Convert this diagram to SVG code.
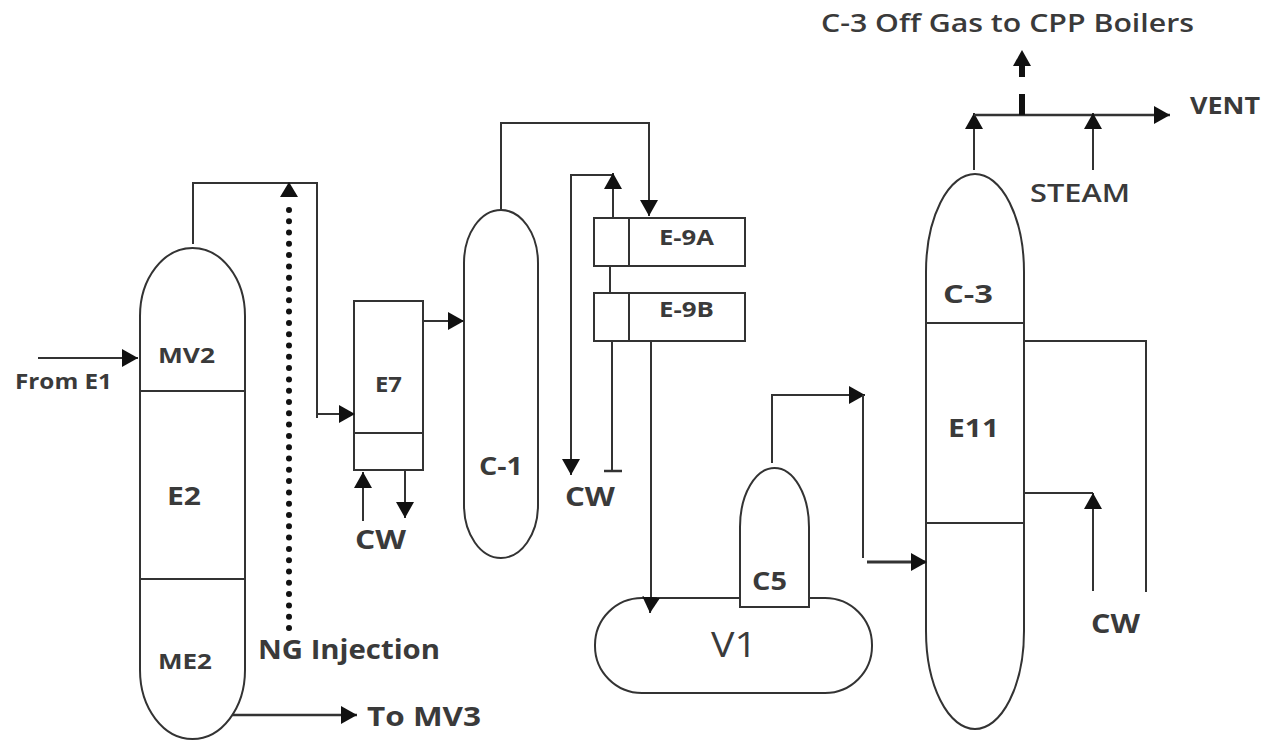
<svg xmlns="http://www.w3.org/2000/svg" width="1268" height="742" viewBox="0 0 1268 742">
<defs>
<marker id="a" markerUnits="userSpaceOnUse" markerWidth="17" markerHeight="18" refX="16" refY="9" orient="auto"><path d="M0 0L16 9L0 18Z" fill="#111"/></marker>
</defs>
<style>
.s{fill:#fff;stroke:#333;stroke-width:2}
.c{fill:none;stroke:#333;stroke-width:2}
text{font-family:"Open Sans","Noto Sans","Liberation Sans",sans-serif;font-weight:700;fill:#3a3a3a}
.b{font-size:26px}
.t{font-size:25px}
.m{font-size:22px}
.r{font-weight:600}
</style>
<rect width="1268" height="742" fill="#fff"/>
<g id="node-mv2">
<path class="s" d="M140 316A52.500 68 0 0 1 245 316V670A52.500 69 0 0 1 140 670Z"/>
<path class="c" d="M140 391H245M140 579H245"/>
<text class="m" x="158" y="363" textLength="57" lengthAdjust="spacingAndGlyphs">MV2</text>
<text class="t" x="167" y="505" textLength="34" lengthAdjust="spacingAndGlyphs">E2</text>
<text class="m" x="158" y="669" textLength="54" lengthAdjust="spacingAndGlyphs">ME2</text>
</g>
<g id="node-e7">
<rect class="s" x="354" y="301" width="69" height="169"/>
<path class="c" d="M354 433H423"/>
<text class="m" x="375" y="392" textLength="27" lengthAdjust="spacingAndGlyphs">E7</text>
</g>
<g id="node-c1">
<path class="s" d="M464 263A37 53 0 0 1 538 263V505A37 53 0 0 1 464 505Z"/>
<text class="t" x="479" y="475" textLength="44" lengthAdjust="spacingAndGlyphs">C-1</text>
</g>
<g id="node-e9a">
<rect class="s" x="594" y="218" width="151" height="48"/>
<path class="c" d="M629 218V266"/>
<text class="m" x="659" y="245" textLength="55" lengthAdjust="spacingAndGlyphs">E-9A</text>
</g>
<g id="node-e9b">
<rect class="s" x="594" y="293" width="151" height="48"/>
<path class="c" d="M629 293V341"/>
<text class="m" x="659" y="317" textLength="55" lengthAdjust="spacingAndGlyphs">E-9B</text>
</g>
<g id="node-v1">
<rect class="s" x="595" y="598" width="277" height="95" rx="47" ry="47"/>
<text x="711" y="657" textLength="46" lengthAdjust="spacingAndGlyphs" style="font-size:35px;font-weight:400">V1</text>
</g>
<g id="node-c5">
<path class="s" d="M740 607V527A34.500 59 0 0 1 809 527V607Z"/>
<text class="t" x="752" y="590" textLength="35" lengthAdjust="spacingAndGlyphs">C5</text>
</g>
<g id="node-c3">
<path class="s" d="M926 272A49 98 0 0 1 1024 272V631A49 98 0 0 1 926 631Z"/>
<path class="c" d="M926 323H1024M926 523H1024"/>
<text class="t" x="943" y="303" textLength="50" lengthAdjust="spacingAndGlyphs">C-3</text>
<text class="t" x="948" y="437" textLength="51" lengthAdjust="spacingAndGlyphs">E11</text>
</g>
<g id="connectors">
<path class="c" d="M193 244V183H317V418"/>
<path class="c" d="M317 414H355" marker-end="url(#a)"/>
<path d="M289 628V206" fill="none" stroke="#111" stroke-width="6" stroke-linecap="round" stroke-dasharray="0 11.3"/>
<path d="M280 197L289 182L298 197Z" fill="#111"/>
<path class="c" d="M38 358H138" marker-end="url(#a)"/>
<path class="c" d="M232 715H357" style="stroke-width:2.500" marker-end="url(#a)"/>
<path class="c" d="M363 521V472" marker-end="url(#a)"/>
<path class="c" d="M405 470V518" marker-end="url(#a)"/>
<path class="c" d="M424 321H464" marker-end="url(#a)"/>
<path class="c" d="M501 211V123H649V216" marker-end="url(#a)"/>
<path class="c" d="M612 175H571V475" marker-end="url(#a)"/>
<path class="c" d="M613 218V173" marker-end="url(#a)"/>
<path class="c" d="M610 266V293"/>
<path class="c" d="M612 341V471"/>
<path class="c" d="M604 471H622" style="stroke-width:2.500"/>
<path class="c" d="M651 342V600L650 613" marker-end="url(#a)"/>
<path class="c" d="M772 463V395H865" marker-end="url(#a)"/>
<path class="c" d="M863 395V558"/>
<path class="c" d="M867 562H927" style="stroke-width:3" marker-end="url(#a)"/>
<path class="c" d="M974 170V113" marker-end="url(#a)"/>
<path class="c" d="M974 115H1170" style="stroke-width:2.500" marker-end="url(#a)"/>
<path d="M1022 115V94" stroke="#111" stroke-width="6" fill="none"/>
<path d="M1022 77V60" stroke="#111" stroke-width="6" fill="none"/>
<path d="M1013 66L1022 50L1031 66Z" fill="#111"/>
<path class="c" d="M1093 170V113" marker-end="url(#a)"/>
<path class="c" d="M1024 341H1146V592"/>
<path class="c" d="M1024 493H1093"/>
<path class="c" d="M1093 591V493" marker-end="url(#a)"/>
</g>
<g id="labels">
<text class="m" x="15" y="389" textLength="97" lengthAdjust="spacingAndGlyphs">From E1</text>
<text class="b" x="258" y="659" textLength="182" lengthAdjust="spacingAndGlyphs">NG Injection</text>
<text class="b" x="367" y="726" textLength="114" lengthAdjust="spacingAndGlyphs">To MV3</text>
<text class="b" x="355" y="549" textLength="51" lengthAdjust="spacingAndGlyphs">CW</text>
<text class="b" x="565" y="506" textLength="50" lengthAdjust="spacingAndGlyphs">CW</text>
<text class="b" x="1091" y="633" textLength="49" lengthAdjust="spacingAndGlyphs">CW</text>
<text class="t r" x="821" y="32" textLength="373" lengthAdjust="spacingAndGlyphs" style="font-size:26px">C-3 Off Gas to CPP Boilers</text>
<text class="b" x="1190" y="114" textLength="70" lengthAdjust="spacingAndGlyphs" style="font-size:24px">VENT</text>
<text class="t r" x="1030" y="202" textLength="100" lengthAdjust="spacingAndGlyphs" style="font-size:26px">STEAM</text>
</g>
</svg>
